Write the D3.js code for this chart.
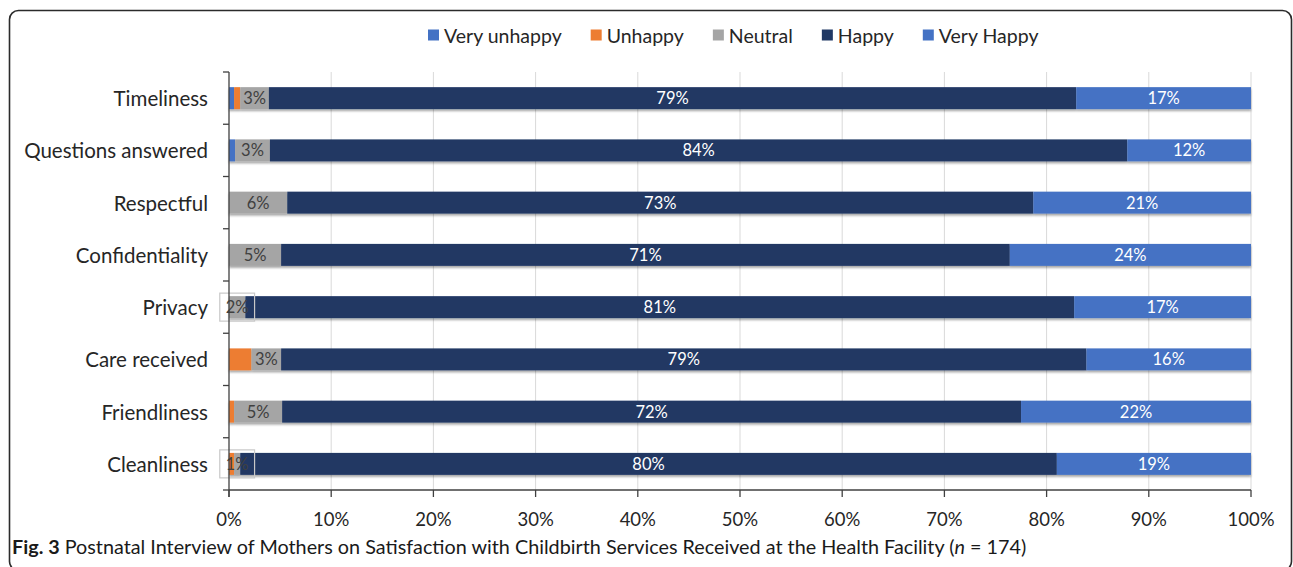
<!DOCTYPE html>
<html>
<head>
<meta charset="utf-8">
<script src="https://cdn.jsdelivr.net/npm/d3@7"></script>
<style>
  html, body { margin: 0; padding: 0; background: #fff; }
  svg { display: block; }
</style>
</head>
<body>
<div id="chart"></div>
<script>
// data
const categories = ['Timeliness', 'Questions answered', 'Respectful', 'Confidentiality', 'Privacy', 'Care received', 'Friendliness', 'Cleanliness'];
const seriesNames = ['Very unhappy', 'Unhappy', 'Neutral', 'Happy', 'Very Happy'];
const veryUnhappy = [0.5, 0.6, 0, 0, 0, 0, 0, 0];
const unhappy = [0.6, 0, 0, 0, 0, 2.2, 0.5, 0.5];
const neutral = [2.8, 3.4, 5.7, 5.1, 1.6, 2.9, 4.7, 0.6];
const happy = [79.0, 83.9, 73.0, 71.3, 81.1, 78.8, 72.3, 79.9];
const veryHappy = [17.1, 12.1, 21.3, 23.6, 17.3, 16.1, 22.5, 19.0];
const neutralLabels = ['3%', '3%', '6%', '5%', '2%', '3%', '5%', '1%'];
const happyLabels = ['79%', '84%', '73%', '71%', '81%', '79%', '72%', '80%'];
const veryHappyLabels = ['17%', '12%', '21%', '24%', '17%', '16%', '22%', '19%'];
const xTicks = [0, 10, 20, 30, 40, 50, 60, 70, 80, 90, 100];
const captionBold = 'Fig. 3';
const captionText = ' Postnatal Interview of Mothers on Satisfaction with Childbirth Services Received at the Health Facility (';
const captionItalic = 'n';
const captionEnd = ' = 174)';

const config = {
  width: 1293,
  height: 567,
  font: 'Lato, "Open Sans", sans-serif',
  plot: { left: 229, right: 1251, top: 72, bottom: 490 },
  colors: ['#4472c4', '#ed7d31', '#a5a5a5', '#203864', '#4472c4'],
  labelColors: [null, null, '#404040', '#ffffff', '#ffffff'],
  grid: '#d9d9d9',
  axis: '#404040',
  text: '#262626',
  fontSize: { category: 20.5, legend: 19.5, tick: 18.5, label: 16.5, caption: 19.8 },
  legend: { left: 428, y: 35, box: 11, textGap: 16, itemGap: 29 },
};

const svg = d3.select('#chart').append('svg')
  .attr('width', config.width)
  .attr('height', config.height);

// bar shadow
const defs = svg.append('defs');
defs.append('filter').attr('id', 'shadow')
  .attr('x', '-5%').attr('y', '-30%').attr('width', '110%').attr('height', '180%')
  .append('feDropShadow')
  .attr('dx', 0).attr('dy', 2).attr('stdDeviation', 1.2)
  .attr('flood-color', '#000').attr('flood-opacity', 0.35);

// frame
svg.append('rect')
  .attr('x', 9.5).attr('y', 10.5)
  .attr('width', 1282).attr('height', 560)
  .attr('rx', 9)
  .attr('fill', 'none')
  .attr('stroke', '#2b2b2b')
  .attr('stroke-width', 1.6);

const x = d3.scaleLinear().domain([0, 100]).range([config.plot.left, config.plot.right]);
const y = d3.scaleBand().domain(categories).range([config.plot.top, config.plot.bottom]).paddingInner(0.58).paddingOuter(0.29);

// grid lines
svg.append('g').selectAll('line')
  .data(xTicks.slice(1))
  .enter().append('line')
  .attr('x1', d => x(d)).attr('x2', d => x(d))
  .attr('y1', config.plot.top).attr('y2', config.plot.bottom)
  .attr('stroke', config.grid).attr('stroke-width', 1);

// stacked bars
const rows = categories.map((c, i) => ({
  category: c,
  values: [veryUnhappy[i], unhappy[i], neutral[i], happy[i], veryHappy[i]],
  labels: [null, null, neutralLabels[i], happyLabels[i], veryHappyLabels[i]],
}));

const segments = [];
rows.forEach(r => {
  let acc = 0;
  r.values.forEach((v, k) => {
    segments.push({ category: r.category, k, x0: acc, x1: acc + v, label: r.labels[k] });
    acc += v;
  });
});

const bars = svg.append('g').attr('filter', 'url(#shadow)');
bars.selectAll('rect')
  .data(segments.filter(s => s.x1 > s.x0))
  .enter().append('rect')
  .attr('x', d => x(d.x0))
  .attr('width', d => x(d.x1) - x(d.x0))
  .attr('y', d => y(d.category))
  .attr('height', y.bandwidth())
  .attr('fill', d => config.colors[d.k]);

// data labels
const labels = svg.append('g');
segments.filter(s => s.label).forEach(s => {
  const cx = (x(s.x0) + x(s.x1)) / 2;
  const cy = y(s.category) + y.bandwidth() / 2;
  const t = labels.append('text')
    .text(s.label)
    .attr('x', cx).attr('y', cy)
    .attr('text-anchor', 'middle')
    .attr('dominant-baseline', 'central')
    .attr('font-family', config.font)
    .attr('font-size', config.fontSize.label)
    .attr('fill', config.labelColors[s.k]);
  const w = t.node().getComputedTextLength();
  if (w > x(s.x1) - x(s.x0)) {
    // callout box when the label does not fit
    labels.insert('rect', 'text')
      .attr('x', cx - w / 2 - 6).attr('y', cy - 14)
      .attr('width', w + 12).attr('height', 28)
      .attr('fill', 'none')
      .attr('stroke', '#c8c8c8').attr('stroke-width', 1.2);
  }
});

// left axis
const yAxis = svg.append('g');
yAxis.append('line')
  .attr('x1', config.plot.left).attr('x2', config.plot.left)
  .attr('y1', config.plot.top).attr('y2', config.plot.bottom + 7)
  .attr('stroke', config.axis).attr('stroke-width', 1.3);
const step = y.step();
yAxis.selectAll('.tick')
  .data(d3.range(categories.length + 1))
  .enter().append('line')
  .attr('x1', config.plot.left - 6).attr('x2', config.plot.left)
  .attr('y1', i => config.plot.top + i * step).attr('y2', i => config.plot.top + i * step)
  .attr('stroke', config.axis).attr('stroke-width', 1.3);
yAxis.selectAll('text')
  .data(categories)
  .enter().append('text')
  .text(d => d)
  .attr('x', 208)
  .attr('y', d => y(d) + y.bandwidth() / 2)
  .attr('text-anchor', 'end')
  .attr('dominant-baseline', 'central')
  .attr('font-family', config.font)
  .attr('font-size', config.fontSize.category)
  .attr('fill', config.text);

// bottom axis
const xAxis = svg.append('g');
xAxis.append('line')
  .attr('x1', config.plot.left).attr('x2', config.plot.right)
  .attr('y1', config.plot.bottom).attr('y2', config.plot.bottom)
  .attr('stroke', config.axis).attr('stroke-width', 1.3);
xAxis.selectAll('.tick')
  .data(xTicks)
  .enter().append('line')
  .attr('x1', d => x(d)).attr('x2', d => x(d))
  .attr('y1', config.plot.bottom).attr('y2', config.plot.bottom + 7)
  .attr('stroke', config.axis).attr('stroke-width', 1.3);
xAxis.selectAll('text')
  .data(xTicks)
  .enter().append('text')
  .text(d => d + '%')
  .attr('x', d => x(d))
  .attr('y', 519)
  .attr('text-anchor', 'middle')
  .attr('dominant-baseline', 'central')
  .attr('font-family', config.font)
  .attr('font-size', config.fontSize.tick)
  .attr('fill', config.text);

// legend
const legend = svg.append('g');
let lx = config.legend.left;
seriesNames.forEach((name, k) => {
  legend.append('rect')
    .attr('x', lx).attr('y', config.legend.y - config.legend.box / 2)
    .attr('width', config.legend.box).attr('height', config.legend.box)
    .attr('fill', config.colors[k]);
  const t = legend.append('text').text(name)
    .attr('x', lx + config.legend.textGap).attr('y', config.legend.y)
    .attr('dominant-baseline', 'central')
    .attr('font-family', config.font)
    .attr('font-size', config.fontSize.legend)
    .attr('fill', config.text);
  lx += config.legend.textGap + t.node().getBBox().width + config.legend.itemGap;
});

// caption
const cap = svg.append('text')
  .attr('x', 12).attr('y', 546)
  .attr('dominant-baseline', 'central')
  .attr('font-family', config.font)
  .attr('font-size', config.fontSize.caption)
  .attr('fill', '#1a1a1a');
cap.append('tspan').text(captionBold).attr('font-weight', 'bold');
cap.append('tspan').text(captionText);
cap.append('tspan').text(captionItalic).attr('font-style', 'italic');
cap.append('tspan').text(captionEnd);
</script>
</body>
</html>
